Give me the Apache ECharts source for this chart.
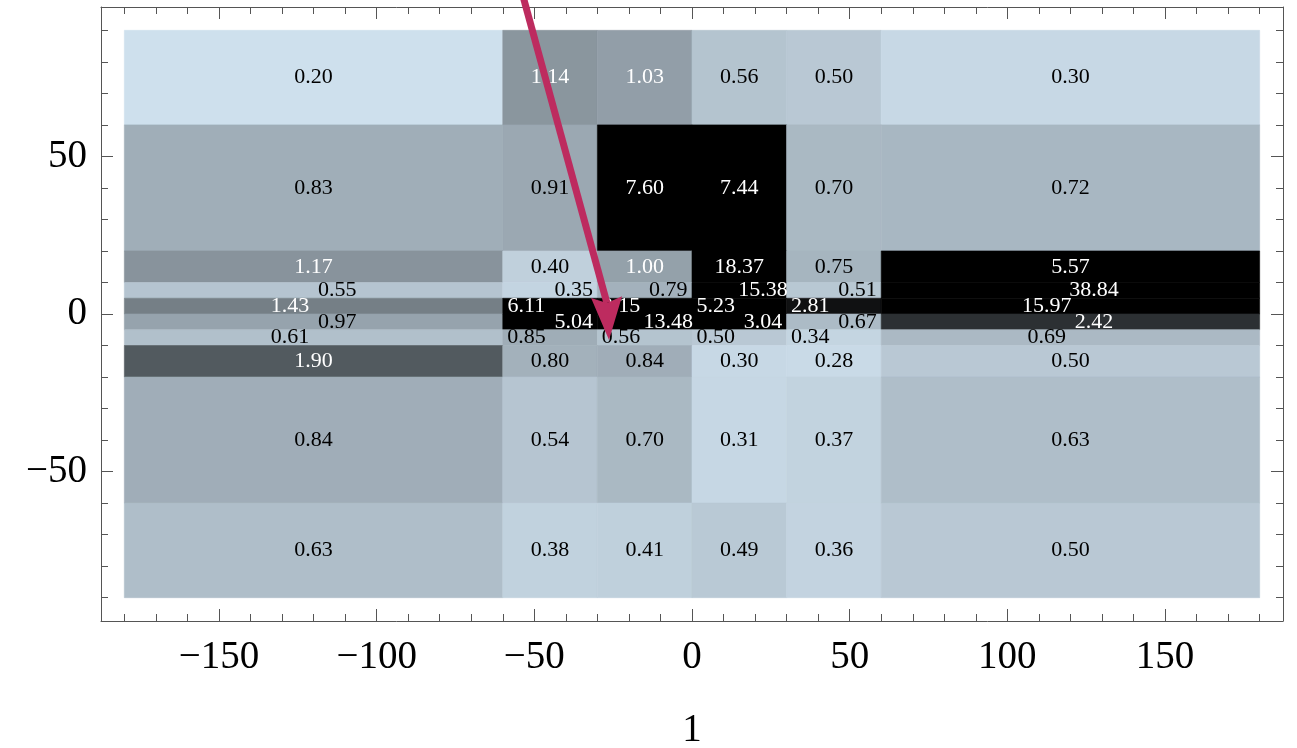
<!DOCTYPE html>
<html>
<head>
<meta charset="utf-8">
<script src="https://cdn.jsdelivr.net/npm/echarts@6/dist/echarts.min.js"></script>
<style>
html, body { margin: 0; padding: 0; background: #ffffff; }
#chart { width: 1297px; height: 748px; }
</style>
</head>
<body>
<div id="chart"></div>
<script>
// ---------------- DATA ----------------
const xEdges = [-180, -60, -30, 0, 30, 60, 180];
const yEdges = [90, 60, 20, 10, 5, 0, -5, -10, -20, -60, -90];

const row90to60   = [0.20, 1.14, 1.03, 0.56, 0.50, 0.30];
const row60to20   = [0.83, 0.91, 7.60, 7.44, 0.70, 0.72];
const row20to10   = [1.17, 0.40, 1.00, 18.37, 0.75, 5.57];
const row10to5    = [0.55, 0.35, 0.79, 15.38, 0.51, 38.84];
const row5to0     = [1.43, 6.11, 8.15, 5.23, 2.81, 15.97];
const row0toM5    = [0.97, 5.04, 13.48, 3.04, 0.67, 2.42];
const rowM5toM10  = [0.61, 0.85, 0.56, 0.50, 0.34, 0.69];
const rowM10toM20 = [1.90, 0.80, 0.84, 0.30, 0.28, 0.50];
const rowM20toM60 = [0.84, 0.54, 0.70, 0.31, 0.37, 0.63];
const rowM60toM90 = [0.63, 0.38, 0.41, 0.49, 0.36, 0.50];

const xMajorTicks = [-150, -100, -50, 0, 50, 100, 150];
const xMinorTicks = [-180, -170, -160, -140, -130, -120, -110, -90, -80, -70, -60, -40, -30, -20, -10,
                     10, 20, 30, 40, 60, 70, 80, 90, 110, 120, 130, 140, 160, 170, 180];
const yMajorTicks = [-50, 0, 50];
const yMinorTicks = [-90, -80, -70, -60, -40, -30, -20, -10, 10, 20, 30, 40, 60, 70, 80, 90];
const xAxisTitle = '1';

// arrow annotation (data coordinates): start (outside the frame), where shaft meets head, tip
const arrowFrom = [-57.6, 115.5];
const arrowJoin = [-26.98, 3.49];
const arrowTip  = [-26.32, -8.25];

// ---------------- LAYOUT / STYLE ----------------
const rows = [row90to60, row60to20, row20to10, row10to5, row5to0,
              row0toM5, rowM5toM10, rowM10toM20, rowM20toM60, rowM60toM90];
const labelShift = [0, 0, 0, 7.5, -7.5, 7.5, -7.5, 0, 0, 0];   // x-offset of cell labels per row
const SERIF = '"Liberation Serif", "Times New Roman", "DejaVu Serif", serif';
const FRAME = '#555555';
const ARROW_COLOR = '#BD2B5F';
const X_MIN = -187.4, X_MAX = 187.4, Y_MIN = -97.4, Y_MAX = 97.4;

const cells = [];
rows.forEach(function (vals, r) {
  vals.forEach(function (v, c) {
    cells.push([xEdges[c], xEdges[c + 1], yEdges[r + 1], yEdges[r], v, r]);
  });
});

function fmt(v) { return v < 0 ? '\u2212' + Math.abs(v) : String(v); }

function xAxisDef(position, ticks, len, showLine, showLabel) {
  return {
    type: 'value', position: position, min: X_MIN, max: X_MAX,
    axisLine: { show: showLine, onZero: false, lineStyle: { color: FRAME, width: 1 } },
    axisTick: { show: true, inside: true, length: len, customValues: ticks, lineStyle: { color: FRAME, width: 1 } },
    axisLabel: showLabel ? { show: true, customValues: ticks, formatter: fmt, fontSize: 39, fontFamily: SERIF, color: '#000', margin: 17 } : { show: false },
    splitLine: { show: false }, minorTick: { show: false }
  };
}
function yAxisDef(position, ticks, len, showLine, showLabel) {
  return {
    type: 'value', position: position, min: Y_MIN, max: Y_MAX,
    axisLine: { show: showLine, onZero: false, lineStyle: { color: FRAME, width: 1 } },
    axisTick: { show: true, inside: true, length: len, customValues: ticks, lineStyle: { color: FRAME, width: 1 } },
    axisLabel: showLabel ? { show: true, customValues: ticks, formatter: fmt, fontSize: 39, fontFamily: SERIF, color: '#000', margin: 14 } : { show: false },
    splitLine: { show: false }, minorTick: { show: false }
  };
}

const xAxes = [
  xAxisDef('bottom', xMajorTicks, 12, true, true),
  xAxisDef('bottom', xMinorTicks, 7, false, false),
  xAxisDef('top', xMajorTicks, 12, true, false),
  xAxisDef('top', xMinorTicks, 7, false, false)
];
xAxes[0].name = xAxisTitle;
xAxes[0].nameLocation = 'middle';
xAxes[0].nameGap = 90;
xAxes[0].nameTextStyle = { fontSize: 39, fontFamily: SERIF, color: '#000' };

const yAxes = [
  yAxisDef('left', yMajorTicks, 12, true, true),
  yAxisDef('left', yMinorTicks, 7, false, false),
  yAxisDef('right', yMajorTicks, 12, true, false),
  yAxisDef('right', yMinorTicks, 7, false, false)
];

function renderCell(params, api) {
  const x0 = api.value(0), x1 = api.value(1), yb = api.value(2), yt = api.value(3);
  const v = api.value(4), r = api.value(5);
  const p0 = api.coord([x0, yt]);
  const p1 = api.coord([x1, yb]);
  const pc = api.coord([(x0 + x1) / 2 + labelShift[r], (yb + yt) / 2]);
  const color = api.visual('color');
  return {
    type: 'group',
    children: [
      { type: 'rect', z2: 0,
        shape: { x: p0[0], y: p0[1], width: p1[0] - p0[0], height: p1[1] - p0[1] },
        style: { fill: color, stroke: color, lineWidth: 0.6 } },
      { type: 'text', z2: 10, x: pc[0], y: pc[1],
        style: { text: v.toFixed(2), fill: v >= 1 ? '#ffffff' : '#000000',
                 fontSize: 22, fontFamily: SERIF, align: 'center', verticalAlign: 'middle' } }
    ]
  };
}

function renderArrow(params, api) {
  const a = api.coord([api.value(0), api.value(1)]);
  const j = api.coord([api.value(2), api.value(3)]);
  const b = api.coord([api.value(4), api.value(5)]);
  const dx = b[0] - j[0], dy = b[1] - j[1];
  const len = Math.sqrt(dx * dx + dy * dy);
  const ux = dx / len, uy = dy / len, nx = -uy, ny = ux;
  const headLen = 43, halfW = 15.5;
  const base = [b[0] - ux * headLen, b[1] - uy * headLen];
  return {
    type: 'group',
    children: [
      { type: 'line', shape: { x1: a[0], y1: a[1], x2: j[0], y2: j[1] },
        style: { stroke: ARROW_COLOR, lineWidth: 7 } },
      { type: 'polygon',
        shape: { points: [[b[0], b[1]], [base[0] + nx * halfW, base[1] + ny * halfW], [j[0], j[1]], [base[0] - nx * halfW, base[1] - ny * halfW]] },
        style: { fill: ARROW_COLOR } }
    ]
  };
}

const chart = echarts.init(document.getElementById('chart'), null, { renderer: 'canvas' });
chart.setOption({
  animation: false,
  backgroundColor: '#ffffff',
  textStyle: { fontFamily: SERIF },
  grid: { left: 101, right: 14, top: 7, bottom: 127, containLabel: false, outerBoundsMode: 'none' },
  xAxis: xAxes,
  yAxis: yAxes,
  visualMap: {
    type: 'continuous', show: false, seriesIndex: 0, dimension: 4,
    min: 0, max: 3.03, inRange: { color: ['#DDF0FE', '#000000'] }
  },
  series: [
    {
      type: 'custom', xAxisIndex: 0, yAxisIndex: 0, clip: false, silent: true,
      renderItem: renderCell,
      encode: { x: [0, 1], y: [2, 3] },
      data: cells
    },
    {
      type: 'custom', xAxisIndex: 0, yAxisIndex: 0, clip: false, silent: true, z: 5,
      renderItem: renderArrow,
      encode: { x: [0, 2, 4], y: [1, 3, 5] },
      data: [[arrowFrom[0], arrowFrom[1], arrowJoin[0], arrowJoin[1], arrowTip[0], arrowTip[1]]]
    }
  ]
});
</script>
</body>
</html>
